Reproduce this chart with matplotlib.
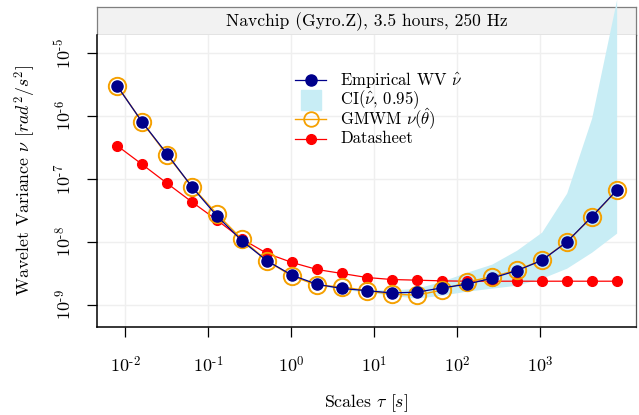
import numpy as np
import matplotlib
matplotlib.use('Agg')
import matplotlib.pyplot as plt
from matplotlib.lines import Line2D
from matplotlib import rc

rc('font', **{'family': 'serif', 'serif': ['cmr10'], 'size': 12})
rc('mathtext', fontset='cm')
rc('axes', unicode_minus=False)
rc('axes.formatter', use_mathtext=True)

# scales tau_j = 2^j / 250 Hz
levels = np.arange(1, 22)
scales = 2.0**levels / 250.0

wv_emp = [3.01e-6, 8.03e-7, 2.48e-7, 7.40e-8, 2.55e-8, 1.03e-8, 4.96e-9,
          2.93e-9, 2.10e-9, 1.80e-9, 1.66e-9, 1.53e-9, 1.57e-9, 1.84e-9,
          2.10e-9, 2.62e-9, 3.46e-9, 5.02e-9, 9.84e-9, 2.49e-8, 6.56e-8]
ci_low = [2.98e-6, 7.95e-7, 2.45e-7, 7.30e-8, 2.51e-8, 1.01e-8, 4.85e-9,
          2.86e-9, 2.04e-9, 1.74e-9, 1.58e-9, 1.40e-9, 1.26e-9, 1.41e-9,
          1.63e-9, 1.82e-9, 2.03e-9, 2.62e-9, 3.79e-9, 6.81e-9, 1.37e-8]
ci_high = [3.04e-6, 8.11e-7, 2.51e-7, 7.50e-8, 2.59e-8, 1.05e-8, 5.07e-9,
           3.00e-9, 2.16e-9, 1.86e-9, 1.74e-9, 1.70e-9, 1.82e-9, 2.35e-9,
           3.27e-9, 4.39e-9, 7.33e-9, 1.42e-8, 5.94e-8, 9.31e-7, 7.2e-5]
wv_gmwm = [3.05e-6, 8.03e-7, 2.39e-7, 7.48e-8, 2.75e-8, 1.09e-8, 4.96e-9,
           2.83e-9, 2.03e-9, 1.91e-9, 1.66e-9, 1.46e-9, 1.41e-9, 1.69e-9,
           2.29e-9, 2.75e-9, 3.52e-9, 5.08e-9, 9.95e-9, 2.43e-8, 6.56e-8]
wv_data = [3.37e-7, 1.70e-7, 8.48e-8, 4.27e-8, 2.20e-8, 1.10e-8, 6.50e-9,
           4.67e-9, 3.61e-9, 3.12e-9, 2.69e-9, 2.50e-9, 2.44e-9, 2.38e-9,
           2.35e-9, 2.35e-9, 2.35e-9, 2.35e-9, 2.35e-9, 2.35e-9, 2.35e-9]

title = 'Navchip (Gyro.Z), 3.5 hours, 250 Hz'
xticks = [1e-2, 1e-1, 1e0, 1e1, 1e2, 1e3]
yticks = [1e-9, 1e-8, 1e-7, 1e-6, 1e-5]

c_emp = '#00008B'
c_ci = '#C8EDF5'
c_gmwm = '#F5A000'
c_data = '#FF0000'


def pow_label(t):
    e = int(round(np.log10(t)))
    if e < 0:
        return r'$10^{\text{-}%d}$' % (-e)
    return r'$10^{%d}$' % e


W, H = 639, 415
fig = plt.figure(figsize=(W/100, H/100), dpi=100)
x0, x1 = 97, 636
y_top, y_strip, y_bot = 7, 35, 326.5

# title strip
sax = fig.add_axes([x0/W, 1 - y_strip/H, (x1-x0)/W, (y_strip-y_top)/H])
sax.set_facecolor('#F2F2F2')
sax.set_xticks([]); sax.set_yticks([])
for s in sax.spines.values():
    s.set_color('#7F7F7F'); s.set_linewidth(0.9)
sax.text(0.5, 0.48, title, ha='center', va='center', transform=sax.transAxes, fontsize=12.6)

ax = fig.add_axes([x0/W, 1 - y_bot/H, (x1-x0)/W, (y_bot-y_strip)/H])
ax.set_xscale('log'); ax.set_yscale('log')
ax.set_xlim(10**-2.34, 10**4.157)
ax.set_ylim(10**-9.35, 10**-4.71)

for t in xticks:
    ax.axvline(t, color='#EFEFEF', lw=1, zorder=0)
for t in yticks:
    ax.axhline(t, color='#EFEFEF', lw=1, zorder=0)

ax.fill_between(scales, ci_low, ci_high, color=c_ci, lw=0, zorder=1, clip_on=False)
ax.plot(scales, wv_data, color=c_data, lw=0.9, marker='o', ms=7, mec=c_data, zorder=2)
ax.plot(scales, wv_gmwm, color=c_gmwm, lw=1.0, marker='o', ms=12.5, mfc='none', mec=c_gmwm, mew=1.4, zorder=3)
ax.plot(scales, wv_emp, color=c_emp, lw=0.9, marker='o', ms=8, mec=c_emp, zorder=4)

ax.set_xticks(xticks)
ax.set_xticklabels([pow_label(t) for t in xticks])
ax.set_yticks(yticks)
ax.set_yticklabels([pow_label(t) for t in yticks], rotation=90, va='center')
ax.minorticks_off()
ax.tick_params(axis='both', length=7.5, width=0.9, labelsize=13)
ax.tick_params(axis='x', pad=13)
ax.tick_params(axis='y', pad=9)

ax.spines['top'].set_visible(False)
ax.spines['right'].set_color('#555555')
ax.spines['right'].set_linewidth(0.9)
ax.spines['left'].set_linewidth(1.1)
ax.spines['bottom'].set_linewidth(1.1)

ax.set_xlabel(r'Scales $\tau$ $[s]$', fontsize=12.8, labelpad=12)
ax.set_ylabel(r'Wavelet Variance $\nu$ $[rad^2/s^2]$', fontsize=12.8, labelpad=11)

# legend drawn row by row so the spacing matches the original
leg_handles = [
    dict(color=c_emp, lw=0.9, marker='o', ms=8, mec=c_emp, mfc=c_emp),
    dict(color=c_ci, lw=0, marker='s', ms=15, mec=c_ci, mfc=c_ci),
    dict(color=c_gmwm, lw=1.0, marker='o', ms=10.5, mfc='none', mec=c_gmwm, mew=1.3),
    dict(color=c_data, lw=0.9, marker='o', ms=7, mec=c_data, mfc=c_data),
]
leg_labels = [r'Empirical WV $\hat{\nu}$', r'CI($\hat{\nu}$, 0.95)',
              r'GMWM $\nu(\hat{\theta})$', 'Datasheet']
row_y = [79.5, 99.5, 119.5, 138.5]
to_ax = lambda px, py: ((px - x0)/(x1 - x0), (y_bot - py)/(y_bot - y_strip))
for kw, lab, py in zip(leg_handles, leg_labels, row_y):
    xa, ya = to_ax(295, py)
    xb, _ = to_ax(326, py)
    xm, _ = to_ax(310.5, py)
    if kw['lw'] > 0:
        ax.add_line(Line2D([xa, xb], [ya, ya], transform=ax.transAxes, color=kw['color'], lw=kw['lw'], zorder=5))
    mk = {k: v for k, v in kw.items() if k not in ('color', 'lw')}
    ax.add_line(Line2D([xm], [ya], transform=ax.transAxes, ls='none', zorder=5, **mk))
    xt, _ = to_ax(340, py)
    ax.text(xt, ya, lab, transform=ax.transAxes, ha='left', va='center', fontsize=12)

fig.savefig('out.png', dpi=100)
